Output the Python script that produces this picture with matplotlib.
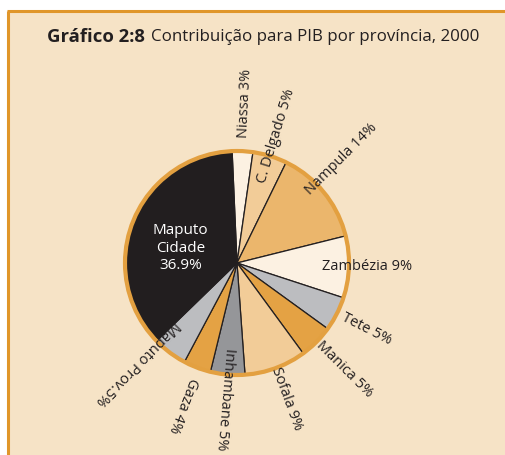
import numpy as np
import matplotlib.pyplot as plt
from matplotlib.patches import Rectangle

# ── Dados ─────────────────────────────────────────────────────────────────────
provincias = ["Niassa", "C. Delgado", "Nampula", "Zambézia", "Tete", "Manica",
              "Sofala", "Inhambane", "Gaza", "Maputo Prov.", "Maputo\nCidade"]
contribuicao = [3, 5, 14, 9, 5, 5, 9, 5, 4, 5, 36.9]
rotulos = ["Niassa 3%", "C. Delgado 5%", "Nampula 14%", "Zambézia 9%",
           "Tete 5%", "Manica 5%", "Sofala 9%", "Inhambane 5%", "Gaza 4%",
           "Maputo Prov.5%", "Maputo\nCidade\n36.9%"]

# estilo
cores = ["#fcf1e2", "#f2cc98", "#ebb66c", "#fcf1e2", "#bcbdc0", "#e4a244",
         "#f2cc98", "#959699", "#e4a244", "#bcbdc0", "#221e1f"]
raio_rotulo = [1.12, 0.75, 0.89, 0.76, 1.06, 1.02, 1.0, 0.76, 1.1, 0.76, 0.52]
ajuste_ang = [0, 0, 6, 0, 0, 0, 0, 0, 0, -8, 7]
FUNDO = "#f6e3c6"
LARANJA = "#e0962a"

fig = plt.figure(figsize=(5.06, 4.55), dpi=100)
fig.patch.set_facecolor("white")
W, H = 506, 455

# painel de fundo com borda laranja (topo e esquerda)
bg = fig.add_axes([0, 0, 1, 1], zorder=-1)
bg.set_xlim(0, W)
bg.set_ylim(H, 0)
bg.axis("off")
bg.add_patch(Rectangle((9, 11), W, H, facecolor=FUNDO, edgecolor="none"))
bg.plot([8.5, 8.5], [H, 10.5], color=LARANJA, lw=2.2, solid_capstyle="butt")
bg.plot([7.4, W], [10.5, 10.5], color=LARANJA, lw=2.2, solid_capstyle="butt")

# título
bg.text(47, 37, "Gráfico 2:8", fontsize=13.3, fontweight="bold",
        family="Open Sans", color="#231f20", va="center")
bg.text(151, 37, "Contribuição para PIB por província, 2000",
        fontsize=12.2, family="Open Sans", color="#231f20", va="center")

# pizza
cx, cy, r = 237, 263, 112
ax = fig.add_axes([(cx - r) / W, 1 - (cy + r) / H, 2 * r / W, 2 * r / H],
                  zorder=2)
ax.set_facecolor("none")
start = 92.5
wedges, _ = ax.pie(contribuicao, colors=cores, startangle=start,
                   counterclock=False, radius=1.0,
                   wedgeprops=dict(edgecolor="#231f20", linewidth=0.9))
for w in wedges:
    w.set_clip_on(False)
ax.add_patch(plt.Circle((0, 0), 1.0, fill=False, edgecolor="#e3a040", lw=3,
                        zorder=5, clip_on=False))
ax.set_xlim(-1, 1)
ax.set_ylim(-1, 1)
ax.set_aspect("equal")
ax.axis("off")

total = sum(contribuicao)
acum = 0
for i, (v, txt) in enumerate(zip(contribuicao, rotulos)):
    meio = start - (acum + v / 2) / total * 360
    acum += v
    th = np.deg2rad(meio + ajuste_ang[i])
    x, y = raio_rotulo[i] * np.cos(th), raio_rotulo[i] * np.sin(th)
    if i == len(contribuicao) - 1:
        ax.text(x, y, txt, color="white", fontsize=11, family="Open Sans",
                ha="center", va="center", linespacing=1.25)
        continue
    rot = (meio + ajuste_ang[i]) % 360
    if i == 3:
        rot = 0
    ax.text(x, y, txt, rotation=rot, rotation_mode="anchor", ha="left",
            va="center", fontsize=10.5, family="Open Sans", color="#231f20",
            clip_on=False, zorder=6)

fig.savefig("out.png", dpi=100)
